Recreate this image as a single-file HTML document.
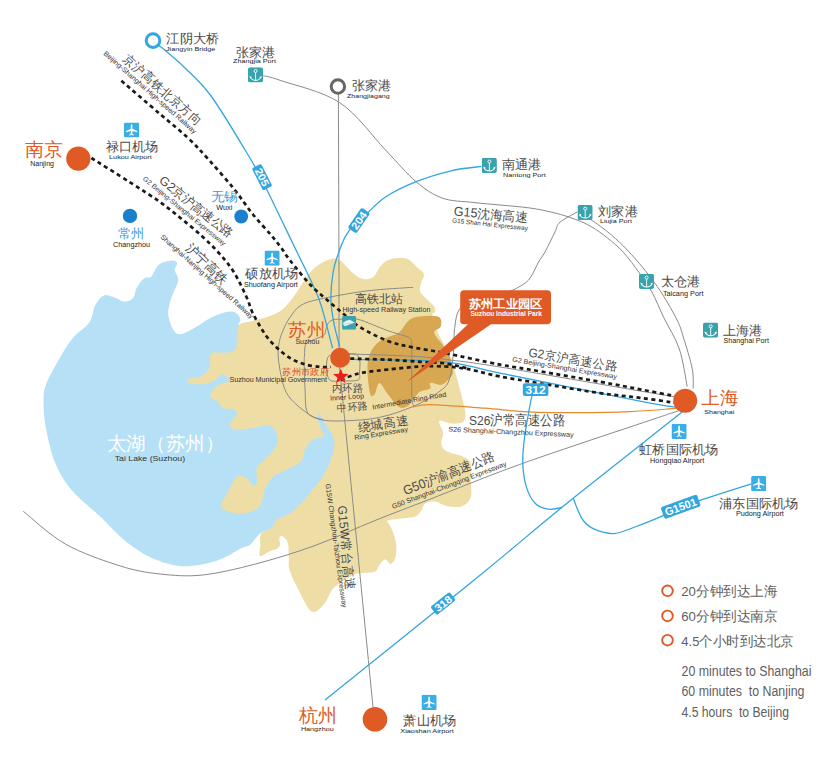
<!DOCTYPE html>
<html><head><meta charset="utf-8"><style>
html,body{margin:0;padding:0;background:#fff;}
body{width:824px;height:758px;overflow:hidden;position:relative;font-family:"Liberation Sans",sans-serif;}
svg{position:absolute;left:0;top:0;font-family:"Liberation Sans",sans-serif;}
</style></head><body>
<svg width="824" height="758" viewBox="0 0 824 758">
<defs>
<symbol id="anchor" viewBox="0 0 15 15"><rect width="15" height="15" rx="2.2" fill="#38a2ad"/><circle cx="7.6" cy="3.7" r="1.5" fill="none" stroke="#fff" stroke-width="0.9"/><path d="M7.6 5.2V12.9" stroke="#fff" stroke-width="0.9"/><path d="M2.4 9.8 Q3.6 12.9 7.6 13 Q11.6 12.9 12.8 9.8" stroke="#fff" stroke-width="1" fill="none"/><path d="M1.4 8.7 L4 9.7 L2.3 11.2Z M13.8 8.7 L11.2 9.7 L12.9 11.2Z" fill="#fff"/></symbol>
<symbol id="plane" viewBox="0 0 15 15"><rect width="15" height="15" rx="1.5" fill="#3aaee6"/><path d="M7.5 1.8 C8.2 1.8 8.3 2.8 8.3 3.5 V6.3 L13 8.6 V9.6 L8.3 8.4 V11.2 L9.8 12.3 V13 L7.5 12.4 L5.2 13 V12.3 L6.7 11.2 V8.4 L2 9.6 V8.6 L6.7 6.3 V3.5 C6.7 2.8 6.8 1.8 7.5 1.8Z" fill="#fff"/></symbol>
<symbol id="train" viewBox="0 0 14 14"><rect width="14" height="14" rx="1.5" fill="#38a2ad"/><path d="M1 6.9 Q3.5 4.2 7.8 3.9 L12.9 6.9 Q8.5 8.3 2.8 10.3 Q0.9 9.6 1 6.9Z" fill="#fff" opacity="0.88"/><path d="M2 8.2 Q6 7.4 11 7.2" stroke="#38a2ad" stroke-width="0.5" fill="none" opacity="0.5"/></symbol>
</defs>
<path d="M171.4,260.6 C174.4,260.3 176.4,261.4 177.0,263.0 C177.6,264.6 174.6,267.3 174.8,270.3 C175.0,273.3 178.7,276.0 178.0,280.9 C177.3,285.8 172.2,293.9 170.6,299.9 C169.0,305.9 167.4,311.2 168.5,316.8 C169.6,322.4 173.0,331.6 176.9,333.7 C180.8,335.8 185.7,332.2 191.7,329.4 C197.7,326.6 206.5,319.8 212.8,316.8 C219.1,313.8 225.5,311.9 229.7,311.5 C233.9,311.1 236.4,313.1 238.2,314.7 C240.0,316.3 240.0,319.1 240.3,321.0 C240.6,322.9 236.4,322.0 240.0,326.0 C243.6,330.0 252.0,332.7 262.0,345.0 C272.0,357.3 287.8,389.2 300.0,400.0 C312.2,410.8 328.3,400.0 335.0,410.0 C341.7,420.0 345.8,443.0 340.0,460.0 C334.2,477.0 310.8,500.7 300.0,512.0 C289.2,523.3 281.5,524.5 275.0,528.0 C268.5,531.5 265.2,530.2 261.0,533.0 C256.8,535.8 253.1,542.3 250.0,544.8 C246.9,547.3 248.0,545.1 242.3,547.8 C236.6,550.5 226.1,557.9 216.0,561.0 C205.9,564.1 192.3,566.7 181.7,566.2 C171.1,565.8 160.8,561.7 152.4,558.3 C144.0,554.9 137.6,550.2 131.3,545.6 C125.0,541.0 119.7,535.8 114.4,530.9 C109.1,526.0 106.7,522.8 99.7,516.1 C92.7,509.4 79.6,499.6 72.2,490.8 C64.8,482.0 59.7,473.9 55.3,463.3 C50.9,452.7 47.8,437.6 45.8,427.4 C43.8,417.2 43.5,409.1 43.5,402.0 C43.5,394.9 43.5,391.8 45.8,385.1 C48.1,378.4 53.0,369.6 57.4,361.9 C61.8,354.2 66.9,345.2 72.2,338.7 C77.5,332.2 85.2,328.4 89.1,322.8 C93.0,317.2 92.9,309.5 95.4,304.9 C97.9,300.3 100.7,296.6 103.9,295.4 C107.1,294.2 110.9,296.4 114.4,297.5 C117.9,298.6 121.8,301.7 125.0,301.7 C128.2,301.7 131.5,299.8 133.4,297.5 C135.3,295.2 134.8,291.2 136.6,288.0 C138.4,284.8 141.5,280.4 144.0,278.5 C146.5,276.6 148.9,278.7 151.4,276.4 C153.9,274.1 155.5,267.4 158.8,264.8 C162.1,262.2 168.4,260.9 171.4,260.6Z" fill="#b6e0f5"/>
<path d="M239.0,325.0 C241.8,321.8 248.6,322.2 253.7,320.7 C258.8,319.2 264.9,317.8 269.6,316.0 C274.4,314.2 278.2,312.9 282.2,309.7 C286.1,306.5 289.9,301.5 293.3,297.0 C296.7,292.5 299.9,286.9 302.8,282.7 C305.7,278.5 307.8,274.9 310.7,271.7 C313.6,268.5 316.8,265.8 320.2,263.7 C323.6,261.6 328.0,259.6 331.3,259.0 C334.6,258.4 336.7,258.2 340.0,260.3 C343.3,262.4 347.4,268.3 351.1,271.4 C354.8,274.5 358.5,277.9 362.2,278.8 C365.9,279.7 370.1,279.0 373.2,276.9 C376.3,274.8 377.8,268.8 380.6,265.9 C383.4,263.0 385.6,260.6 389.9,259.4 C394.2,258.2 401.9,257.1 406.5,258.5 C411.1,259.9 414.7,265.1 417.6,267.7 C420.5,270.3 423.4,271.7 424.0,274.2 C424.6,276.7 421.9,279.6 421.3,282.5 C420.7,285.4 419.1,288.6 420.3,291.7 C421.5,294.8 426.4,298.5 428.7,301.0 C431.0,303.5 433.1,304.7 434.2,306.5 C435.3,308.3 435.4,310.5 435.1,312.0 C434.8,313.5 431.9,312.3 432.4,315.7 C432.9,319.1 436.1,327.8 437.9,332.4 C439.7,337.0 441.2,339.1 443.4,343.4 C445.5,347.7 448.9,353.9 450.8,358.2 C452.7,362.5 453.0,364.2 454.5,369.3 C456.0,374.4 458.2,382.9 459.7,388.5 C461.2,394.1 462.5,399.2 463.4,403.2 C464.3,407.2 465.3,409.4 465.3,412.5 C465.3,415.6 465.5,419.8 463.4,421.7 C461.2,423.6 456.4,423.7 452.4,423.6 C448.4,423.5 440.9,419.5 439.4,421.0 C437.8,422.5 442.8,429.0 443.1,432.8 C443.4,436.6 440.7,440.8 441.3,443.9 C441.9,447.0 443.1,449.1 446.8,451.3 C450.5,453.5 459.4,454.7 463.4,456.8 C467.4,458.9 469.6,460.2 470.8,464.2 C472.0,468.2 470.8,475.2 470.8,480.8 C470.8,486.4 472.2,493.3 470.7,497.5 C469.2,501.7 465.8,504.8 461.9,506.2 C458.0,507.6 451.8,506.9 447.4,506.2 C443.0,505.5 439.3,502.3 435.7,501.8 C432.1,501.3 427.9,501.8 425.5,503.3 C423.1,504.8 422.9,508.4 421.2,510.6 C419.5,512.8 418.7,515.1 415.3,516.4 C411.9,517.7 405.4,517.9 400.8,518.6 C396.2,519.3 389.4,519.5 387.7,520.8 C386.0,522.1 389.4,523.7 390.6,526.6 C391.8,529.5 394.0,534.6 395.0,538.2 C396.0,541.8 396.4,545.0 396.4,548.4 C396.4,551.8 396.0,556.0 395.0,558.6 C394.0,561.2 392.3,563.6 390.6,563.7 C388.9,563.8 386.8,559.0 384.8,559.4 C382.9,559.8 380.6,563.8 378.9,565.9 C377.2,568.0 377.8,570.5 374.6,571.7 C371.5,572.9 363.6,572.6 360.0,573.2 C356.4,573.8 357.2,572.8 352.8,575.2 C348.4,577.6 338.6,583.0 333.8,587.8 C329.1,592.5 328.0,599.7 324.3,603.7 C320.6,607.7 315.9,613.7 311.7,611.6 C307.5,609.5 302.7,597.9 299.0,591.0 C295.3,584.1 291.3,575.6 289.6,570.0 C287.9,564.4 289.0,561.4 288.8,557.5 C288.6,553.6 288.8,549.3 288.4,546.4 C288.0,543.5 287.5,541.8 286.4,540.1 C285.3,538.4 282.9,536.4 281.7,536.1 C280.5,535.8 279.6,537.0 279.3,538.5 C279.0,540.0 280.5,543.1 280.1,544.8 C279.7,546.5 278.6,547.7 276.9,548.8 C275.2,549.9 272.2,550.1 269.8,551.2 C267.4,552.3 264.4,554.9 262.7,555.5 C261.0,556.1 259.9,556.8 259.5,555.1 C259.1,553.5 260.0,549.2 260.3,545.6 C260.6,542.0 259.1,536.8 261.1,533.8 C263.1,530.8 269.7,529.6 272.2,527.4 C274.7,525.1 274.1,522.1 276.1,520.3 C278.1,518.4 281.0,518.0 284.0,516.3 C287.0,514.6 289.7,514.2 294.3,510.0 C298.9,505.8 306.4,497.5 311.8,490.8 C317.2,484.1 322.9,476.7 326.6,469.7 C330.3,462.7 332.9,454.2 334.0,448.6 C335.1,443.0 334.5,440.1 332.9,435.9 C331.3,431.7 326.8,427.1 324.5,423.2 C322.2,419.3 320.3,413.0 319.2,412.7 C318.1,412.4 317.4,417.2 318.1,421.1 C318.8,425.0 324.1,432.9 323.4,435.9 C322.7,438.9 316.9,437.0 313.9,439.1 C310.9,441.2 307.6,444.9 305.5,448.6 C303.4,452.3 304.4,457.7 301.2,461.2 C298.0,464.7 291.1,467.2 286.5,469.7 C281.9,472.2 277.3,472.8 273.8,476.0 C270.3,479.2 267.6,483.8 265.3,488.7 C263.0,493.6 262.6,501.7 260.1,505.6 C257.7,509.5 253.9,510.5 250.6,511.9 C247.2,513.3 244.0,514.2 240.0,514.0 C236.0,513.8 229.6,512.2 226.5,510.8 C223.4,509.4 220.8,509.0 221.2,505.5 C221.6,502.0 226.5,494.5 229.2,489.7 C231.8,484.9 234.2,478.4 237.1,476.5 C239.9,474.6 243.7,476.6 246.3,478.1 C248.9,479.6 250.9,484.8 252.7,485.5 C254.5,486.2 256.2,485.3 256.9,482.3 C257.6,479.3 255.5,471.5 256.9,467.6 C258.3,463.7 261.9,463.0 265.3,459.1 C268.7,455.2 275.2,448.9 277.0,444.3 C278.8,439.7 277.5,434.9 275.9,431.7 C274.3,428.5 271.8,425.8 267.4,425.3 C263.0,424.8 254.8,427.9 249.7,428.6 C244.6,429.3 240.4,429.8 237.0,429.4 C233.6,429.0 229.9,427.8 229.1,426.3 C228.3,424.9 230.9,422.7 232.2,420.7 C233.5,418.7 236.7,416.2 237.0,414.4 C237.3,412.6 236.2,410.8 233.8,409.7 C231.4,408.6 225.3,409.4 222.7,408.1 C220.1,406.8 219.8,403.3 218.0,401.7 C216.2,400.1 212.9,399.9 211.7,398.6 C210.5,397.3 210.1,395.9 210.9,393.8 C211.7,391.7 213.4,388.0 216.4,385.9 C219.4,383.8 227.2,382.5 229.1,381.2 C230.9,379.9 228.6,379.2 227.5,378.0 C226.4,376.8 225.3,373.3 222.7,374.0 C220.1,374.7 215.6,380.3 211.7,382.0 C207.8,383.7 202.8,384.2 199.0,384.3 C195.2,384.4 190.3,383.6 188.7,382.7 C187.1,381.8 187.5,379.9 189.5,378.8 C191.5,377.8 197.3,378.1 200.6,376.4 C203.9,374.7 207.7,371.7 209.3,368.5 C210.9,365.3 209.4,360.0 210.1,357.4 C210.8,354.8 210.3,353.5 213.2,352.7 C216.1,351.9 223.8,353.2 227.5,352.7 C231.2,352.2 233.8,351.6 235.4,349.5 C237.0,347.4 236.4,344.1 237.0,340.0 C237.6,335.9 236.2,328.2 239.0,325.0Z" fill="#eedea6"/>
<path d="M369.6,354.5 C371.2,350.1 373.8,346.3 376.9,343.4 C380.0,340.5 384.3,338.8 388.0,337.0 C391.7,335.2 396.0,334.7 399.1,332.4 C402.2,330.1 404.0,325.6 406.5,323.1 C409.0,320.6 410.2,318.8 413.9,317.6 C417.6,316.4 424.4,315.7 428.7,315.7 C433.0,315.7 437.7,315.8 439.7,317.6 C441.7,319.5 441.6,324.3 440.7,326.8 C439.8,329.3 434.0,329.6 434.2,332.4 C434.4,335.2 439.1,339.7 441.6,343.4 C444.1,347.1 447.1,350.2 449.0,354.5 C450.9,358.8 452.1,365.9 452.7,369.3 C453.3,372.7 453.1,373.4 452.4,375.0 C451.7,376.6 450.5,377.6 448.7,379.2 C446.9,380.8 444.4,384.2 441.3,384.8 C438.2,385.4 432.1,382.3 430.2,382.9 C428.3,383.5 432.0,386.9 430.2,388.5 C428.4,390.1 421.9,390.3 419.1,392.2 C416.3,394.1 415.5,397.3 413.6,399.6 C411.8,401.9 410.5,404.8 408.0,406.0 C405.5,407.2 402.2,408.9 398.8,406.9 C395.4,404.9 390.9,398.0 387.7,394.0 C384.5,390.0 381.5,382.9 379.4,382.9 C377.2,382.9 376.3,392.1 374.8,394.0 C373.3,395.9 371.4,398.0 370.2,394.0 C369.0,390.0 367.5,376.6 367.4,370.0 C367.3,363.4 368.0,358.9 369.6,354.5Z" fill="#d7a752"/>
<path d="M23.3,511.3 C30.3,516.8 49.4,535.0 65.5,544.1 C81.6,553.2 104.2,560.9 120.0,565.9 C135.8,570.9 146.2,572.5 160.0,574.0 C173.8,575.5 186.9,576.7 202.8,575.0 C218.7,573.3 236.8,568.9 255.5,564.0 C274.2,559.1 295.1,552.8 315.0,545.5 C334.9,538.2 355.8,528.2 375.0,520.5 C394.2,512.8 407.5,507.9 430.0,499.2 C452.5,490.4 485.0,477.2 510.0,468.0 C535.0,458.8 560.0,450.5 580.0,443.7 C600.0,436.9 613.5,432.5 630.0,427.0 C646.5,421.5 670.9,413.3 679.1,410.6" fill="none" stroke="#8a8a8a" stroke-width="1.0" />
<path d="M339.5,367.0 C345.1,423.7 367.4,650.3 373.0,707.0" fill="none" stroke="#8a8a8a" stroke-width="1.0" />
<path d="M338.4,94.0 C338.5,125.8 338.9,242.7 339.0,285.0 C339.1,327.3 339.0,337.5 339.0,348.0" fill="none" stroke="#8a8a8a" stroke-width="1.0" />
<path d="M263.2,75.7 C266.0,76.5 267.2,75.8 280.0,80.3 C292.8,84.8 322.1,91.0 339.7,102.6 C357.3,114.2 372.8,136.8 385.5,150.0 C398.2,163.2 406.6,173.7 416.1,181.7 C425.6,189.7 432.8,194.6 442.3,198.1 C451.8,201.6 463.3,201.2 472.9,202.4 C482.5,203.6 490.5,204.1 500.0,205.0 C509.5,205.9 520.8,206.7 530.0,208.0 C539.2,209.3 547.4,211.1 555.0,213.0 C562.6,214.9 569.7,217.2 575.8,219.5 C581.9,221.8 586.4,223.8 591.7,226.9 C597.0,230.0 602.2,233.8 607.5,238.0 C612.8,242.2 618.0,246.4 623.3,252.2 C628.6,258.0 634.5,266.2 639.2,272.8 C644.0,279.4 647.7,284.3 651.8,291.8 C655.9,299.3 659.4,308.5 664.0,318.0 C668.6,327.5 675.4,337.5 679.3,348.9 C683.2,360.3 685.9,380.2 687.2,386.5" fill="none" stroke="#8a8a8a" stroke-width="1.0" />
<path d="M590.0,219.0 C592.9,221.1 602.0,227.2 607.5,231.7 C613.0,236.2 618.0,240.6 623.3,245.9 C628.6,251.2 634.5,257.8 639.2,263.3 C644.0,268.9 647.8,273.9 651.8,279.2 C655.8,284.5 658.7,288.2 662.9,295.0 C667.1,301.8 673.7,313.0 677.1,320.0 C680.5,327.0 680.8,328.9 683.3,337.0 C685.8,345.1 690.6,360.1 692.2,368.7 C693.9,377.3 693.0,385.1 693.2,388.4" fill="none" stroke="#8a8a8a" stroke-width="1.0" />
<path d="M577.5,211.9 C574.6,213.6 563.8,218.8 560.0,222.2 C556.2,225.5 557.5,227.0 555.0,232.0 C552.5,237.0 547.7,247.0 545.0,252.0 C542.3,257.0 541.3,257.3 538.6,262.0 C535.9,266.7 532.7,275.4 528.6,280.0 C524.5,284.6 516.4,288.1 514.0,289.7" fill="none" stroke="#8a8a8a" stroke-width="1.0" />
<path d="M413.2,287.3 C405.5,287.9 382.9,288.9 367.1,290.9 C351.3,292.9 329.7,296.9 318.5,299.4 C307.3,301.9 304.8,302.9 300.0,306.0 C295.2,309.1 292.3,314.2 289.6,318.0 C286.9,321.8 285.4,325.0 283.7,328.9 C282.0,332.8 280.3,336.8 279.4,341.3 C278.5,345.9 277.8,349.8 278.2,356.2 C278.6,362.6 280.3,373.4 282.0,380.0 C283.7,386.6 284.8,390.8 288.3,395.8 C291.8,400.8 297.7,406.1 303.0,410.0 C308.3,413.9 312.9,417.7 320.0,419.5 C327.1,421.3 335.6,421.2 345.5,420.8 C355.4,420.4 368.2,419.8 379.5,417.4 C390.8,415.0 403.5,410.6 413.4,406.3 C423.3,402.1 432.9,396.3 438.9,391.9 C444.8,387.5 446.7,386.5 449.1,380.0 C451.5,373.5 452.5,361.4 453.4,352.8 C454.3,344.2 453.6,335.8 454.6,328.5 C455.6,321.2 456.1,313.9 459.5,309.1 C462.9,304.4 468.2,302.5 475.0,300.0 C481.8,297.5 493.5,295.7 500.0,294.0 C506.5,292.3 511.7,290.4 514.0,289.7" fill="none" stroke="#8a8a8a" stroke-width="1.0" />
<path d="M323.0,419.8 C320.4,418.6 310.6,418.0 307.6,412.7 C304.6,407.4 305.6,396.0 305.0,387.9 C304.4,379.8 304.3,369.7 304.2,364.2 C304.1,358.7 304.3,358.1 304.5,355.0 C304.7,351.9 304.6,347.9 305.2,345.8 C305.8,343.7 306.2,343.3 308.1,342.1 C310.0,340.9 314.1,339.7 316.8,338.5 C319.5,337.3 322.5,336.7 324.1,334.9 C325.7,333.1 325.6,329.7 326.3,327.6 C327.0,325.5 327.3,323.8 328.5,322.5 C329.7,321.2 331.3,320.2 333.6,319.6 C335.9,319.1 338.5,319.3 342.3,319.2 C346.1,319.1 351.7,318.1 356.7,319.0 C361.7,319.9 367.2,322.6 372.5,324.6 C377.8,326.6 383.0,329.0 388.3,330.9 C393.6,332.8 400.5,334.4 404.2,335.7 C407.9,337.0 409.2,336.7 410.5,338.8 C411.8,340.9 411.6,338.8 411.8,348.3 C412.0,357.8 411.5,386.2 411.8,395.8 C412.1,405.4 413.4,404.3 413.7,406.0" fill="none" stroke="#8a8a8a" stroke-width="1.0" />
<path d="M333.0,354.5 C335.6,354.4 344.8,353.9 348.7,353.9 C352.6,353.9 354.8,353.5 356.7,354.7 C358.6,355.9 359.3,358.1 359.8,361.0 C360.3,363.9 359.8,368.8 359.5,372.0 C359.2,375.2 361.1,378.5 358.2,380.0 C355.3,381.5 347.1,380.8 342.4,380.8 C337.6,380.8 332.3,382.3 329.7,380.0 C327.1,377.7 326.9,370.8 326.6,367.0 C326.3,363.2 326.9,359.1 328.0,357.0 C329.1,354.9 332.2,354.9 333.0,354.5" fill="none" stroke="#8a8a8a" stroke-width="1.0" />
<path d="M348.7,353.9 C359.2,354.3 395.9,355.3 412.0,356.2 C428.1,357.1 430.3,357.6 445.0,359.4 C459.7,361.2 467.5,361.7 500.0,367.0 C532.5,372.3 610.7,386.0 640.0,391.0 C669.3,396.0 670.0,396.0 676.0,397.0" fill="none" stroke="#8a8a8a" stroke-width="1.0" />
<path d="M412.6,407.2 C415.5,406.8 418.0,404.4 430.0,404.6 C442.0,404.8 468.2,407.0 484.6,408.2 C501.0,409.4 512.4,411.1 528.3,411.8 C544.2,412.6 563.0,412.7 580.0,412.7 C597.0,412.7 614.0,412.4 630.0,411.7 C646.0,411.0 668.3,408.9 676.0,408.4" fill="none" stroke="#e58a2e" stroke-width="1.2" />
<path d="M158.6,45.0 C163.0,48.8 176.2,59.4 185.0,68.0 C193.8,76.6 201.4,82.8 211.4,96.5 C221.4,110.2 236.7,136.1 245.1,150.0 C253.5,163.9 253.5,163.3 262.0,180.0 C270.5,196.7 287.5,232.5 296.0,250.0 C304.5,267.5 308.7,275.7 312.9,285.0 C317.1,294.3 318.0,295.3 321.3,305.9 C324.6,316.4 330.7,341.2 332.6,348.3" fill="none" stroke="#33a6df" stroke-width="1.3" />
<path d="M481.6,166.4 C476.5,167.1 462.0,168.2 451.1,170.8 C440.2,173.4 427.0,177.3 416.1,181.7 C405.2,186.1 393.7,191.7 385.5,197.0 C377.3,202.3 371.6,209.5 367.0,213.3 C362.4,217.1 361.7,216.2 358.2,219.9 C354.7,223.6 349.5,229.7 346.2,235.2 C342.9,240.7 340.8,246.5 338.6,252.7 C336.4,258.9 334.4,264.4 333.1,272.3 C331.8,280.2 330.7,291.3 330.9,300.0 C331.1,308.7 332.7,316.8 334.2,324.6 C335.7,332.4 338.9,343.0 339.8,346.7" fill="none" stroke="#33a6df" stroke-width="1.3" />
<path d="M350.3,359.4 C366.1,359.8 420.1,359.5 445.0,361.8 C469.9,364.1 467.5,366.5 500.0,373.1 C532.5,379.7 610.7,395.5 640.0,401.2 C669.3,406.9 670.0,406.3 676.0,407.3" fill="none" stroke="#33a6df" stroke-width="1.3" />
<path d="M532.3,396.1 C532.1,396.8 532.3,393.3 531.0,400.0 C529.7,406.7 526.1,425.8 524.7,436.4 C523.3,447.0 522.5,455.2 522.8,463.7 C523.1,472.2 524.4,480.7 526.5,487.4 C528.6,494.1 532.0,500.2 535.6,503.8 C539.2,507.4 543.9,508.6 548.3,509.2 C552.7,509.8 559.7,507.8 562.0,507.5" fill="none" stroke="#33a6df" stroke-width="1.3" />
<path d="M682.4,411.7 C673.7,418.6 647.1,439.7 630.0,453.2 C612.9,466.7 593.9,481.7 580.0,492.8 C566.1,503.9 564.1,505.5 546.5,520.0 C528.9,534.5 511.1,550.0 474.2,580.0 C437.3,610.0 349.9,679.9 325.0,699.9" fill="none" stroke="#33a6df" stroke-width="1.3" />
<path d="M573.5,498.6 C574.1,500.2 575.6,504.9 577.2,508.5 C578.8,512.1 580.4,517.0 583.3,520.5 C586.1,524.0 589.2,527.0 594.3,529.2 C599.4,531.4 607.3,533.9 613.9,533.6 C620.5,533.3 625.6,530.4 633.6,527.5 C641.6,524.6 654.1,519.6 662.0,516.1 C669.9,512.6 665.8,512.1 680.7,506.7 C695.6,501.3 739.5,487.6 751.2,483.8" fill="none" stroke="#33a6df" stroke-width="1.3" />
<path d="M121.4,80.8 C127.8,86.3 148.9,104.5 160.0,114.0 C171.1,123.5 179.5,130.0 187.7,137.7 C195.9,145.4 201.3,151.4 209.0,160.0 C216.7,168.6 226.7,179.9 234.0,189.0 C241.3,198.1 246.8,206.8 253.0,214.5 C259.2,222.2 266.3,229.5 271.0,235.0 C275.7,240.5 277.8,243.2 281.0,247.5 C284.2,251.8 285.6,254.8 290.5,261.0 C295.4,267.2 304.5,278.6 310.5,285.0 C316.5,291.4 320.7,294.3 326.3,299.2 C331.9,304.1 338.4,309.7 344.0,314.3 C349.6,318.9 352.4,322.5 359.8,327.0 C367.2,331.5 379.3,337.8 388.3,341.2 C397.3,344.6 404.2,345.5 413.7,347.5 C423.1,349.5 430.6,350.2 445.0,353.1 C459.4,356.0 484.2,361.6 500.0,364.6 C515.8,367.6 523.3,368.4 540.0,371.3 C556.7,374.2 583.3,378.8 600.0,381.8 C616.7,384.8 627.3,386.9 640.0,389.3 C652.7,391.7 670.0,395.2 676.0,396.4" fill="none" stroke="#1a1a1a" stroke-width="2.7" stroke-dasharray="4 3.5"/>
<path d="M91.4,158.0 C97.8,162.1 118.6,175.0 130.0,182.3 C141.4,189.6 151.5,196.0 160.0,202.0 C168.5,208.0 174.0,212.8 181.1,218.5 C188.2,224.2 196.0,230.7 202.3,236.5 C208.7,242.3 213.9,247.4 219.2,253.4 C224.5,259.4 229.4,265.1 234.0,272.4 C238.6,279.7 243.5,290.4 246.5,297.0 C249.5,303.6 249.9,307.0 252.1,311.7 C254.2,316.4 256.8,320.8 259.4,325.2 C262.0,329.6 264.5,333.9 267.7,337.9 C270.9,341.9 274.5,345.6 278.3,349.0 C282.1,352.4 286.2,355.8 290.5,358.3 C294.8,360.8 299.2,362.7 304.1,364.1 C309.0,365.6 315.5,366.5 320.0,367.0 C324.5,367.5 329.2,367.0 331.0,367.0" fill="none" stroke="#1a1a1a" stroke-width="2.7" stroke-dasharray="4 3.5"/>
<path d="M340.8,380.0 C342.7,379.2 348.0,376.8 352.0,375.5 C356.0,374.2 358.6,373.3 364.6,372.3 C370.7,371.3 379.1,370.5 388.3,369.5 C397.5,368.5 410.6,367.0 420.0,366.5 C429.4,366.0 437.8,366.2 445.0,366.5 C452.2,366.8 457.7,367.5 463.1,368.3 C468.6,369.1 471.6,369.9 477.7,371.3 C483.8,372.7 489.6,374.5 500.0,376.5 C510.4,378.5 523.3,380.5 540.0,383.3 C556.7,386.1 583.3,390.7 600.0,393.1 C616.7,395.5 627.3,396.2 640.0,397.8 C652.7,399.4 670.0,402.1 676.0,403.0" fill="none" stroke="#1a1a1a" stroke-width="2.7" stroke-dasharray="4 3.5"/>
<path d="M350.3,358.6 C356.6,358.8 376.7,359.2 388.3,359.7 C399.9,360.2 410.6,361.2 420.0,361.8 C429.4,362.4 436.7,362.2 445.0,363.4 C453.3,364.6 465.8,368.1 470.0,369.0" fill="none" stroke="#1a1a1a" stroke-width="2.7" stroke-dasharray="4 3.5"/>
<g transform="translate(262.1 177.2) rotate(63)"><rect x="-12.5" y="-5.25" width="25" height="10.5" rx="2" fill="#33a6df"/><text x="0" y="3.78" font-size="10.5" font-weight="bold" fill="#fff" text-anchor="middle" textLength="19" lengthAdjust="spacingAndGlyphs">205</text></g>
<g transform="translate(358.9 220.5) rotate(-55)"><rect x="-12.25" y="-5.25" width="24.5" height="10.5" rx="2" fill="#33a6df"/><text x="0" y="3.78" font-size="10.5" font-weight="bold" fill="#fff" text-anchor="middle" textLength="19" lengthAdjust="spacingAndGlyphs">204</text></g>
<g transform="translate(535.6 389.7) rotate(0)"><rect x="-12.75" y="-6.4" width="25.5" height="12.8" rx="2" fill="#33a6df"/><text x="0" y="4.14" font-size="11.5" font-weight="bold" fill="#fff" text-anchor="middle" textLength="20" lengthAdjust="spacingAndGlyphs">312</text></g>
<g transform="translate(443.1 603.5) rotate(-38)"><rect x="-12.25" y="-5.25" width="24.5" height="10.5" rx="2" fill="#33a6df"/><text x="0" y="3.78" font-size="10.5" font-weight="bold" fill="#fff" text-anchor="middle" textLength="19" lengthAdjust="spacingAndGlyphs">318</text></g>
<g transform="translate(680.7 506.7) rotate(-20)"><rect x="-19.25" y="-6.25" width="38.5" height="12.5" rx="2" fill="#33a6df"/><text x="0" y="3.96" font-size="11" font-weight="bold" fill="#fff" text-anchor="middle" textLength="33" lengthAdjust="spacingAndGlyphs">G1501</text></g>
<circle cx="78.35" cy="158.65" r="12.15" fill="#df5a24"/>
<circle cx="685.2" cy="400.8" r="12" fill="#df5a24"/>
<circle cx="375" cy="719.2" r="12.3" fill="#df5a24"/>
<circle cx="340.2" cy="357.7" r="10" fill="#df5a24"/>
<circle cx="153" cy="40.6" r="6.8" fill="#fff" stroke="#33a6df" stroke-width="3"/>
<circle cx="337.9" cy="86.5" r="6.7" fill="#fff" stroke="#666" stroke-width="3"/>
<circle cx="130" cy="215.9" r="7.2" fill="#1a7fcc"/>
<circle cx="241.2" cy="216.5" r="6.9" fill="#1a7fcc"/>
<polygon points="340.80,368.40 342.80,373.85 348.60,374.07 344.03,377.65 345.62,383.23 340.80,380.00 335.98,383.23 337.57,377.65 333.00,374.07 338.80,373.85" fill="#e8201c"/>
<use href="#anchor" x="247.9" y="67.2" width="15.2" height="15.2"/>
<use href="#anchor" x="481.7" y="157.8" width="15.2" height="15.2"/>
<use href="#anchor" x="577.5" y="204.9" width="15.2" height="15.2"/>
<use href="#anchor" x="638.9" y="273.8" width="15.2" height="15.2"/>
<use href="#anchor" x="703" y="322.6" width="15.2" height="15.2"/>
<use href="#plane" x="124" y="122.4" width="15.2" height="15.2"/>
<use href="#plane" x="264.5" y="250.6" width="15.2" height="15.2"/>
<use href="#plane" x="671.5" y="423.8" width="15.2" height="15.2"/>
<use href="#plane" x="751.1" y="476.1" width="15.2" height="15.2"/>
<use href="#plane" x="421.5" y="694.8" width="15.2" height="15.2"/>
<use href="#train" x="342.1" y="315.9" width="13.9" height="13.9"/>
<path d="M464,290.2 H547.2 Q551,290.2 551,294 V320.4 Q551,324.2 547.2,324.2 H491 L406.5,382.2 L468,324.2 H464 Q460.2,324.2 460.2,320.4 V294 Q460.2,290.2 464,290.2Z" fill="#df5a24"/>
<text x="505.6" y="308.3" font-size="12.2" fill="#fff" text-anchor="middle" font-weight="bold" textLength="74" lengthAdjust="spacingAndGlyphs" >苏州工业园区</text>
<text x="506.2" y="316.1" font-size="6.6" fill="#fff" text-anchor="middle" font-weight="bold" textLength="71.6" lengthAdjust="spacingAndGlyphs" >Suzhou Industrial Park</text>
<text x="166.3" y="42.9" font-size="12.8" fill="#4a4a4a" text-anchor="start" textLength="53" lengthAdjust="spacingAndGlyphs" >江阴大桥</text>
<text x="166" y="50.6" font-size="6" fill="#222" text-anchor="start" textLength="49.4" lengthAdjust="spacingAndGlyphs" >Jiangyin Bridge</text>
<text x="236.2" y="56.5" font-size="12.5" fill="#4a4a4a" text-anchor="start" textLength="39.4" lengthAdjust="spacingAndGlyphs" >张家港</text>
<text x="233.1" y="63.4" font-size="6" fill="#222" text-anchor="start" textLength="42.9" lengthAdjust="spacingAndGlyphs" >Zhangjia Port</text>
<text x="351.5" y="90.1" font-size="12.5" fill="#4a4a4a" text-anchor="start" textLength="39.4" lengthAdjust="spacingAndGlyphs" >张家港</text>
<text x="347.1" y="98.3" font-size="6" fill="#222" text-anchor="start" textLength="42.5" lengthAdjust="spacingAndGlyphs" >Zhangjiagang</text>
<text x="105.5" y="151.1" font-size="12.8" fill="#4a4a4a" text-anchor="start" textLength="52.7" lengthAdjust="spacingAndGlyphs" >禄口机场</text>
<text x="109.1" y="158.9" font-size="6.2" fill="#222" text-anchor="start" textLength="42.7" lengthAdjust="spacingAndGlyphs" >Lukou Airport</text>
<text x="24.8" y="156.3" font-size="18.5" fill="#df5a24" text-anchor="start" textLength="38" lengthAdjust="spacingAndGlyphs" >南京</text>
<text x="30.2" y="166.2" font-size="6.6" fill="#222" text-anchor="start" textLength="23.8" lengthAdjust="spacingAndGlyphs" >Nanjing</text>
<text x="118" y="237.6" font-size="12.5" fill="#3d9bd8" text-anchor="start" textLength="26.5" lengthAdjust="spacingAndGlyphs" >常州</text>
<text x="113.1" y="246.5" font-size="6.8" fill="#222" text-anchor="start" textLength="37" lengthAdjust="spacingAndGlyphs" >Changzhou</text>
<text x="210.6" y="200.8" font-size="12.5" fill="#3d9bd8" text-anchor="start" textLength="27.4" lengthAdjust="spacingAndGlyphs" >无锡</text>
<text x="216.3" y="209.6" font-size="6.8" fill="#222" text-anchor="start" textLength="16" lengthAdjust="spacingAndGlyphs" >Wuxi</text>
<text x="245.3" y="278.1" font-size="12.5" fill="#4a4a4a" text-anchor="start" textLength="53" lengthAdjust="spacingAndGlyphs" >硕放机场</text>
<text x="243.9" y="287.3" font-size="6.3" fill="#222" text-anchor="start" textLength="54" lengthAdjust="spacingAndGlyphs" >Shuofang Airport</text>
<text x="501.6" y="168.9" font-size="12.5" fill="#4a4a4a" text-anchor="start" textLength="39.5" lengthAdjust="spacingAndGlyphs" >南通港</text>
<text x="503.1" y="176.6" font-size="6" fill="#222" text-anchor="start" textLength="42.7" lengthAdjust="spacingAndGlyphs" >Nantong Port</text>
<text x="598.3" y="216.2" font-size="12.5" fill="#4a4a4a" text-anchor="start" textLength="39.5" lengthAdjust="spacingAndGlyphs" >刘家港</text>
<text x="599.9" y="223.4" font-size="6" fill="#222" text-anchor="start" textLength="32" lengthAdjust="spacingAndGlyphs" >Liujia Port</text>
<text x="661.1" y="285.6" font-size="12.5" fill="#4a4a4a" text-anchor="start" textLength="39.5" lengthAdjust="spacingAndGlyphs" >太仓港</text>
<text x="662.9" y="295.8" font-size="6.5" fill="#222" text-anchor="start" textLength="40.6" lengthAdjust="spacingAndGlyphs" >Taicang Port</text>
<text x="723" y="335" font-size="12.5" fill="#4a4a4a" text-anchor="start" textLength="39.5" lengthAdjust="spacingAndGlyphs" >上海港</text>
<text x="723.5" y="343.3" font-size="6.5" fill="#222" text-anchor="start" textLength="45.5" lengthAdjust="spacingAndGlyphs" >Shanghai Port</text>
<text x="701.4" y="404.4" font-size="18" fill="#df5a24" text-anchor="start" textLength="37.5" lengthAdjust="spacingAndGlyphs" >上海</text>
<text x="704.3" y="414.3" font-size="6" fill="#222" text-anchor="start" textLength="30" lengthAdjust="spacingAndGlyphs" >Shanghai</text>
<text x="639.2" y="453.9" font-size="13" fill="#4a4a4a" text-anchor="start" textLength="79.5" lengthAdjust="spacingAndGlyphs" >虹桥国际机场</text>
<text x="650.1" y="462.5" font-size="6.5" fill="#222" text-anchor="start" textLength="54.2" lengthAdjust="spacingAndGlyphs" >Hongqiao Airport</text>
<text x="719" y="507.8" font-size="13" fill="#4a4a4a" text-anchor="start" textLength="79.5" lengthAdjust="spacingAndGlyphs" >浦东国际机场</text>
<text x="735.9" y="516" font-size="6.5" fill="#222" text-anchor="start" textLength="48" lengthAdjust="spacingAndGlyphs" >Pudong Airport</text>
<text x="298.5" y="722.1" font-size="18.5" fill="#df5a24" text-anchor="start" textLength="38" lengthAdjust="spacingAndGlyphs" >杭州</text>
<text x="300.9" y="730.5" font-size="6.2" fill="#222" text-anchor="start" textLength="32.8" lengthAdjust="spacingAndGlyphs" >Hangzhou</text>
<text x="403.4" y="725" font-size="12.8" fill="#4a4a4a" text-anchor="start" textLength="53" lengthAdjust="spacingAndGlyphs" >萧山机场</text>
<text x="400.3" y="732.5" font-size="6.2" fill="#222" text-anchor="start" textLength="53.5" lengthAdjust="spacingAndGlyphs" >Xiaoshan Airport</text>
<text x="106.8" y="449.6" font-size="19" fill="#fff" text-anchor="start" textLength="118" lengthAdjust="spacingAndGlyphs" >太湖（苏州）</text>
<text x="114.7" y="460.8" font-size="7.6" fill="#333" text-anchor="start" textLength="70.4" lengthAdjust="spacingAndGlyphs" >Tai Lake (Suzhou)</text>
<text x="288.4" y="335.9" font-size="17.8" fill="#df5a24" text-anchor="start" textLength="37" lengthAdjust="spacingAndGlyphs" >苏州</text>
<text x="295.4" y="344" font-size="7" fill="#333" text-anchor="start" textLength="24" lengthAdjust="spacingAndGlyphs" >Suzhou</text>
<text x="355.4" y="303.4" font-size="12" fill="#4a4a4a" text-anchor="start" textLength="48" lengthAdjust="spacingAndGlyphs" >高铁北站</text>
<text x="342.4" y="311.5" font-size="7" fill="#333" text-anchor="start" textLength="88" lengthAdjust="spacingAndGlyphs" >High-speed Railway Station</text>
<text x="282.4" y="374.9" font-size="9.3" fill="#e23b22" text-anchor="start" textLength="46.5" lengthAdjust="spacingAndGlyphs" >苏州市政府</text>
<text x="229.4" y="381.9" font-size="7.5" fill="#333" text-anchor="start" textLength="97.7" lengthAdjust="spacingAndGlyphs" >Suzhou Municipal Government</text>
<text x="332.2" y="392.4" font-size="10.5" fill="#4a4a4a" text-anchor="start" textLength="30.5" lengthAdjust="spacingAndGlyphs" >内环路</text>
<text x="330.2" y="400.6" font-size="7" fill="#333" text-anchor="start" transform="rotate(-4 330.2 400.6)" textLength="34" lengthAdjust="spacingAndGlyphs" >Inner Loop</text>
<text x="337.5" y="411.8" font-size="10.5" fill="#4a4a4a" text-anchor="start" transform="rotate(-5 337.5 411.8)" textLength="31" lengthAdjust="spacingAndGlyphs" >中环路</text>
<text x="372.7" y="409.5" font-size="7" fill="#333" text-anchor="start" transform="rotate(-10 372.7 409.5)" textLength="75" lengthAdjust="spacingAndGlyphs" >Intermediate Ring Road</text>
<text x="358.9" y="432.4" font-size="12.5" fill="#4a4a4a" text-anchor="start" transform="rotate(-9 358.9 432.4)" textLength="51" lengthAdjust="spacingAndGlyphs" >绕城高速</text>
<text x="354.8" y="440" font-size="7" fill="#333" text-anchor="start" transform="rotate(-9 354.8 440)" textLength="54" lengthAdjust="spacingAndGlyphs" >Ring Expressway</text>
<text x="453.6" y="215.5" font-size="13" fill="#4a4a4a" text-anchor="start" transform="rotate(5 453.6 215.5)" textLength="74" lengthAdjust="spacingAndGlyphs" >G15沈海高速</text>
<text x="452" y="222.6" font-size="6.5" fill="#333" text-anchor="start" transform="rotate(6 452 222.6)" textLength="76" lengthAdjust="spacingAndGlyphs" >G15 Shan Hai Expressway</text>
<text x="528" y="356.4" font-size="12.5" fill="#4a4a4a" text-anchor="start" transform="rotate(9.2 528 356.4)" textLength="90" lengthAdjust="spacingAndGlyphs" >G2京沪高速公路</text>
<text x="512" y="361.5" font-size="6.8" fill="#333" text-anchor="start" transform="rotate(9.5 512 361.5)" textLength="106" lengthAdjust="spacingAndGlyphs" >G2 Beijing-Shanghai Expressway</text>
<text x="469.1" y="425.4" font-size="13.5" fill="#4a4a4a" text-anchor="start" textLength="96" lengthAdjust="spacingAndGlyphs" >S26沪常高速公路</text>
<text x="448.2" y="431.6" font-size="7" fill="#333" text-anchor="start" transform="rotate(2.5 448.2 431.6)" textLength="125.6" lengthAdjust="spacingAndGlyphs" >S26 Shanghai-Changzhou Expressway</text>
<text x="405.2" y="495.2" font-size="13" fill="#4a4a4a" text-anchor="start" transform="rotate(-21.5 405.2 495.2)" textLength="97" lengthAdjust="spacingAndGlyphs" >G50沪渝高速公路</text>
<text x="393" y="509" font-size="7" fill="#333" text-anchor="start" transform="rotate(-20.8 393 509)" textLength="122" lengthAdjust="spacingAndGlyphs" >G50 Shanghai-Chongqing Expressway</text>
<text x="337.7" y="506.1" font-size="12.5" fill="#4a4a4a" text-anchor="start" transform="rotate(84.5 337.7 506.1)" textLength="85" lengthAdjust="spacingAndGlyphs" >G15W常台高速</text>
<text x="325.5" y="484" font-size="7" fill="#333" text-anchor="start" transform="rotate(82.3 325.5 484)" textLength="125" lengthAdjust="spacingAndGlyphs" >G15W Changzhou-Taizhou Expressway</text>
<text x="122" y="59.8" font-size="12.5" fill="#4a4a4a" text-anchor="start" transform="rotate(41.5 122 59.8)" textLength="100" lengthAdjust="spacingAndGlyphs" >京沪高铁北京方向</text>
<text x="103.1" y="54.2" font-size="7" fill="#333" text-anchor="start" transform="rotate(41.3 103.1 54.2)" textLength="121" lengthAdjust="spacingAndGlyphs" >Beijing-Shanghai High-speed Railway</text>
<text x="158.3" y="181.8" font-size="12.4" fill="#4a4a4a" text-anchor="start" transform="rotate(38.6 158.3 181.8)" textLength="90" lengthAdjust="spacingAndGlyphs" >G2京沪高速公路</text>
<text x="142.2" y="179.5" font-size="6.8" fill="#333" text-anchor="start" transform="rotate(39.3 142.2 179.5)" textLength="105" lengthAdjust="spacingAndGlyphs" >G2 Beijing-Shanghai Expressway</text>
<text x="185" y="248.8" font-size="13" fill="#4a4a4a" text-anchor="start" transform="rotate(43.9 185 248.8)" textLength="52" lengthAdjust="spacingAndGlyphs" >沪宁高铁</text>
<text x="160" y="237.6" font-size="7" fill="#333" text-anchor="start" transform="rotate(41.8 160 237.6)" textLength="122" lengthAdjust="spacingAndGlyphs" >Shanghai-Nanjing High-speed Railway</text>
<circle cx="667.5" cy="590.8" r="5.3" fill="none" stroke="#df5a24" stroke-width="1.9"/>
<circle cx="667.5" cy="615.9" r="5.3" fill="none" stroke="#df5a24" stroke-width="1.9"/>
<circle cx="667.5" cy="640.2" r="5.3" fill="none" stroke="#df5a24" stroke-width="1.9"/>
<text x="681.3" y="596" font-size="13.5" fill="#606060" text-anchor="start" textLength="96.5" lengthAdjust="spacingAndGlyphs" >20分钟到达上海</text>
<text x="681.3" y="620.7" font-size="13.5" fill="#606060" text-anchor="start" textLength="96.5" lengthAdjust="spacingAndGlyphs" >60分钟到达南京</text>
<text x="681.3" y="646" font-size="13.5" fill="#606060" text-anchor="start" textLength="112.5" lengthAdjust="spacingAndGlyphs" >4.5个小时到达北京</text>
<text x="681.5" y="675.9" font-size="13.8" fill="#606060" text-anchor="start" textLength="130" lengthAdjust="spacingAndGlyphs" >20 minutes to Shanghai</text>
<text x="681.5" y="696.2" font-size="13.8" fill="#606060" text-anchor="start" textLength="123" lengthAdjust="spacingAndGlyphs" >60 minutes  to Nanjing</text>
<text x="681.5" y="716.9" font-size="13.8" fill="#606060" text-anchor="start" textLength="107.5" lengthAdjust="spacingAndGlyphs" >4.5 hours  to Beijing</text>
</svg>
</body></html>
